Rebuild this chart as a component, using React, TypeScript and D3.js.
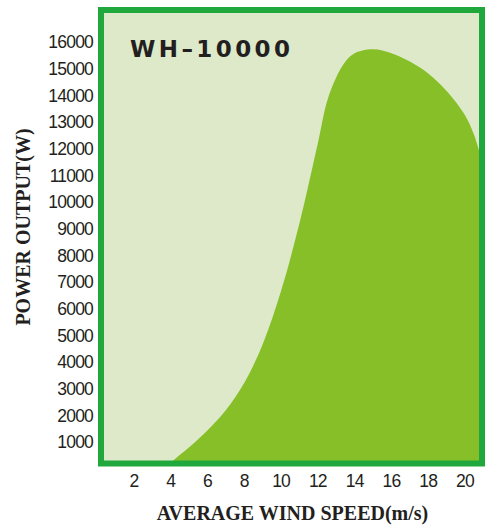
import React from "react";
import { scaleLinear, area, curveCatmullRom } from "d3";

// wind speed (m/s) and power output (W)
const windSpeed = [3.6, 4, 5, 6, 7, 8, 9, 10, 11, 12, 12.5, 13, 13.5, 14, 15, 16, 17, 18, 19, 20, 20.5, 21];
const powerOut = [0, 230, 800, 1440, 2200, 3220, 4670, 6670, 9210, 12210, 13780, 14680, 15270, 15580, 15730, 15580, 15270, 14820, 14160, 13250, 12500, 11350];

const xTicks = [2, 4, 6, 8, 10, 12, 14, 16, 18, 20];
const yTicks = [1000, 2000, 3000, 4000, 5000, 6000, 7000, 8000, 9000, 10000, 11000, 12000, 13000, 14000, 15000, 16000];

const title = "WH–10000";
const xTitle = "AVERAGE WIND SPEED(m/s)";
const yTitle = "POWER OUTPUT(W)";

export default function App() {
  const width = 488;
  const height = 526;

  // frame (inner light area)
  const frame = { left: 101, top: 10, right: 482, bottom: 463.5 };

  const xScale = scaleLinear().domain([2, 20]).range([134, 465]);
  const yScale = scaleLinear().domain([1000, 16000]).range([442, 42]);

  const points = windSpeed.map((w, i) => ({ w, p: powerOut[i] }));
  const areaPath = area<{ w: number; p: number }>()
    .x((d) => xScale(d.w))
    .y0(yScale(0))
    .y1((d) => yScale(d.p))
    .curve(curveCatmullRom.alpha(0.5))(points);

  return (
    <svg
      width={width}
      height={height}
      style={{ position: "absolute", left: 0, top: 0, background: "#fff" }}
    >
      <defs>
        <clipPath id="inner">
          <rect
            x={frame.left}
            y={frame.top}
            width={frame.right - frame.left}
            height={frame.bottom - frame.top}
          />
        </clipPath>
      </defs>

      {/* light background */}
      <rect
        x={frame.left}
        y={frame.top}
        width={frame.right - frame.left}
        height={frame.bottom - frame.top}
        fill="#dde9c9"
      />

      {/* power curve */}
      <g clipPath="url(#inner)">
        <path d={areaPath || ""} fill="#86bf27" />
      </g>

      {/* frame border */}
      <rect
        x={frame.left}
        y={frame.top}
        width={frame.right - frame.left}
        height={frame.bottom - frame.top}
        fill="none"
        stroke="#20a83c"
        strokeWidth={6}
      />

      <text
        x={130}
        y={57}
        fontFamily="DejaVu Sans"
        fontWeight="bold"
        fontSize={23}
        letterSpacing={3.4}
        fill="#231f20"
      >
        {title}
      </text>

      {/* y tick labels */}
      {yTicks.map((t) => (
        <text
          key={t}
          x={93}
          y={yScale(t)}
          dy="0.36em"
          textAnchor="end"
          fontFamily="Liberation Sans"
          fontSize={17.5}
          letterSpacing={-0.8}
          fill="#231f20"
        >
          {t}
        </text>
      ))}

      {/* x tick labels */}
      {xTicks.map((t) => (
        <text
          key={t}
          x={xScale(t)}
          y={487}
          textAnchor="middle"
          fontFamily="Liberation Sans"
          fontSize={17.5}
          letterSpacing={-0.8}
          fill="#231f20"
        >
          {t}
        </text>
      ))}

      <text
        x={292.5}
        y={520}
        textAnchor="middle"
        fontFamily="Liberation Serif"
        fontWeight="bold"
        fontSize={20}
        fill="#231f20"
      >
        {xTitle}
      </text>
      <text
        transform="translate(30,227) rotate(-90)"
        textAnchor="middle"
        fontFamily="Liberation Serif"
        fontWeight="bold"
        fontSize={20}
        fill="#231f20"
      >
        {yTitle}
      </text>
    </svg>
  );
}
